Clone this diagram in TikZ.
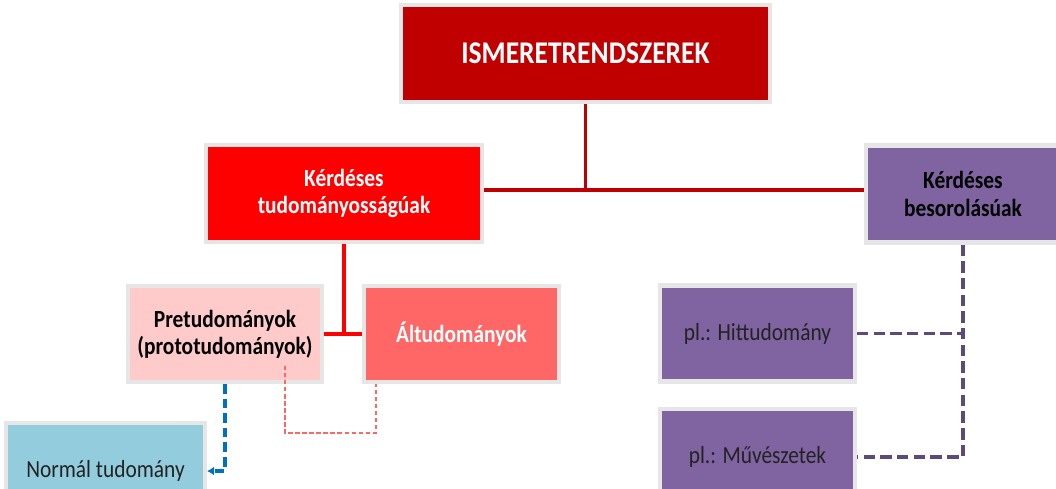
\documentclass[tikz,border=0pt]{standalone}
\usepackage{fontspec}
\setmainfont{Carlito}[FakeStretch=0.87]
\usetikzlibrary{calc,arrows.meta}
\definecolor{ismred}{HTML}{C00000}
\definecolor{kerdred}{HTML}{FF0000}
\definecolor{prepink}{HTML}{FFCACA}
\definecolor{altred}{HTML}{FF6666}
\definecolor{besorlila}{HTML}{8064A2}
\definecolor{lilaline}{HTML}{5F497A}
\definecolor{normkek}{HTML}{93CDDD}
\definecolor{kekline}{HTML}{0070C0}
\definecolor{boxrim}{HTML}{E6E6E6}
\definecolor{szoveg}{HTML}{222222}

\begin{document}
\begin{tikzpicture}[x=0.02cm,y=-0.02cm,
  box/.style={draw=boxrim, line width=2.3pt, minimum width=3.9cm, minimum height=1.92cm,
    align=center, inner sep=0pt, text=szoveg, font=\fontsize{14}{15.5}\selectfont},
  cim/.style={box, font=\bfseries\fontsize{14}{15.5}\selectfont},
  fovonal/.style={draw=ismred, line width=2pt},
  pirosvonal/.style={draw=kerdred, line width=2pt},
  rozsaszaggatott/.style={draw=altred, line width=0.9pt, dash pattern=on 2.5pt off 1.5pt},
  kekszaggatott/.style={draw=kekline, line width=2.1pt, dash pattern=on 5.5pt off 2.8pt},
  lilaszaggatott/.style={draw=lilaline, line width=2.1pt, dash pattern=on 6.5pt off 3pt}]
\path[use as bounding box, clip] (0,0) rectangle (1056,488);

\node[cim, fill=ismred, text=white, minimum width=7.38cm, minimum height=1.94cm,
  font=\bfseries\fontsize{18}{20}\selectfont] (ism) at (585.5,53.5) {ISMERETRENDSZEREK};
\node[cim, fill=kerdred, text=white, minimum width=5.52cm, minimum height=1.94cm] (kt) at (344,193.5) {Kérdéses\\tudományosságúak};
\node[cim, fill=besorlila, text=black, minimum width=3.88cm, minimum height=1.94cm] (kb) at (963,194) {Kérdéses\\besorolásúak};
\node[cim, fill=prepink, text=black, minimum width=3.88cm] (pre) at (225,334) {Pretudományok\\(prototudományok)};
\node[cim, fill=altred, text=white] (alt) at (461.5,334) {Áltudományok};
\node[box, fill=normkek, minimum width=3.98cm] (norm) at (105.5,471) {Normál tudomány};
\node[box, fill=besorlila] (hit) at (757.5,333.5) {pl.: Hittudomány};
\node[box, fill=besorlila] (muv) at (757.5,457) {pl.: Művészetek};

\coordinate (elagazas) at (585.5,190);
\draw[fovonal] (ism.south) -- (elagazas);
\draw[fovonal] (elagazas -| kt.east) -- (elagazas -| kb.west);
\draw[pirosvonal] (kt.south) -- (kt.south |- pre.east);
\draw[pirosvonal] (pre.east) -- (alt.west);

\coordinate (protovege) at (285,366);
\coordinate (protokanyar) at (285,433);
\draw[rozsaszaggatott] (protovege) -- (protokanyar) -| ($(alt.south west)+(14,0)$);
\draw[kekszaggatott, -{Latex[length=4pt,width=5pt]}] (pre.south) |- (norm.east);
\draw[lilaszaggatott] (kb.south) |- (muv.east);
\draw[lilaszaggatott] (hit.east) -- (hit.east -| kb.south);
\end{tikzpicture}
\end{document}
